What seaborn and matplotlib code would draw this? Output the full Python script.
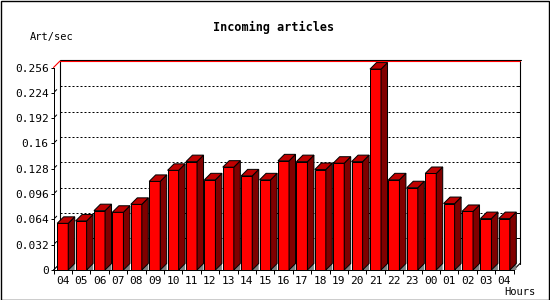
import matplotlib
matplotlib.use("Agg")
import matplotlib.pyplot as plt
import matplotlib.transforms as mtransforms
from matplotlib.patches import Polygon, Rectangle
from matplotlib.lines import Line2D
import seaborn as sns
import pandas as pd
import numpy as np

# ---- data ----
hours = ["04", "05", "06", "07", "08", "09", "10", "11", "12", "13", "14", "15",
         "16", "17", "18", "19", "20", "21", "22", "23", "00", "01", "02", "03", "04"]
rate = [0.059, 0.062, 0.075, 0.073, 0.083, 0.112, 0.126, 0.137, 0.114, 0.130,
        0.119, 0.114, 0.138, 0.137, 0.127, 0.135, 0.137, 0.254, 0.114, 0.104,
        0.122, 0.084, 0.074, 0.065, 0.065]
yticks = [0, 0.032, 0.064, 0.096, 0.128, 0.16, 0.192, 0.224, 0.256]
ytick_labels = ["0", "0.032", "0.064", "0.096", "0.128", "0.16", "0.192", "0.224", "0.256"]
title = "Incoming articles"
ylabel = "Art/sec"
xlabel = "Hours"

# ---- style ----
sns.set_theme(style="white")
plt.rcParams['font.family'] = ['DejaVu Sans Mono', 'DejaVu Sans']

FRONT = "#ff0000"
TOP = "#c00000"
SIDE = "#800000"
FLOOR = "#808080"

W, H = 550, 300
DPI = 100
fig = plt.figure(figsize=(W / DPI, H / DPI), dpi=DPI)
fig.patch.set_facecolor("white")

L, R, B, T = 53.5, 513.5, 270.0, 67.5   # pixel frame of the front plane
D = 6.5                                 # 3D depth in pixels
ax = fig.add_axes([L / W, (H - B) / H, (R - L) / W, (B - T) / H])

df = pd.DataFrame({"slot": list(range(len(hours))), "rate": rate})
sns.barplot(data=df, x="slot", y="rate", order=list(range(len(hours))),
            color=FRONT, saturation=1, width=0.6, errorbar=None,
            edgecolor="black", linewidth=0.72, ax=ax, zorder=3, orient="x")

ax.set_xlim(-0.5, len(hours) - 0.5)
ax.set_ylim(0, yticks[-1])
ax.set_xlabel("")
ax.set_ylabel("")
ax.set_facecolor("white")

# spines
for s in ["top", "right"]:
    ax.spines[s].set_visible(False)
for s in ["left", "bottom"]:
    ax.spines[s].set_color("black")
    ax.spines[s].set_linewidth(0.72)
    ax.spines[s].set_zorder(4)

# ticks
ax.set_yticks(yticks, ytick_labels)
ax.tick_params(axis="y", left=True, length=2.5, width=0.72, color="black",
               pad=1, labelsize=8, labelcolor="black")
ax.set_xticks(list(range(len(hours))), hours)
ax.set_xticks(np.arange(-0.5, len(hours), 1.0), minor=True)
ax.tick_params(axis="x", which="major", bottom=True, length=0, pad=4,
               labelsize=8, labelcolor="black")
ax.tick_params(axis="x", which="minor", bottom=True, length=3, width=0.72,
               color="black")

ident = mtransforms.IdentityTransform()


def disp(x, y, back=False):
    p = ax.transData.transform((x, y))
    if back:
        p = p + np.array([D, D])
    return p


x0, x1 = -0.5, len(hours) - 0.5
ymax = yticks[-1]

# back wall gridlines (dotted) and right-wall ticks
for yv in yticks[1:-1]:
    a = disp(x0, yv, True)
    b = disp(x1, yv, True)
    ax.add_line(Line2D([a[0], b[0]], [a[1], b[1]], transform=ident, color="black",
                       lw=0.72, linestyle=(0, (2, 2)), zorder=1, clip_on=False))
    ax.add_line(Line2D([b[0] - 3, b[0]], [b[1], b[1]], transform=ident,
                       color="black", lw=0.72, zorder=1, clip_on=False))
    # short diagonal marks between front axis and back wall
    f = disp(x0, yv)
    ax.add_line(Line2D([f[0] + 1.2, f[0] + 3.2], [f[1] + 1.2, f[1] + 3.2],
                       transform=ident, color="black", lw=0.72, zorder=1,
                       clip_on=False))

# back wall frame
for (xa, ya, xb, yb) in [(x0, 0, x0, ymax), (x1, 0, x1, ymax)]:
    a = disp(xa, ya, True)
    b = disp(xb, yb, True)
    ax.add_line(Line2D([a[0], b[0]], [a[1], b[1]], transform=ident, color="black",
                       lw=0.8, zorder=1, clip_on=False))
# top edge of back wall: black over red
a = disp(x0, ymax, True)
b = disp(x1, ymax, True)
ax.add_line(Line2D([a[0], b[0] + 0.5], [a[1] + 1, b[1] + 1], transform=ident,
                   color="black", lw=0.8, zorder=1, clip_on=False))
ax.add_line(Line2D([a[0], b[0]], [a[1], b[1]], transform=ident,
                   color="red", lw=0.8, zorder=1, clip_on=False))
f = disp(x0, ymax)
ax.add_line(Line2D([f[0], a[0]], [f[1], a[1]], transform=ident,
                   color="red", lw=0.8, zorder=1, clip_on=False))
# floor diagonals
for xv in (x0, x1):
    f = disp(xv, 0)
    g = disp(xv, 0, True)
    ax.add_line(Line2D([f[0], g[0]], [f[1], g[1]], transform=ident,
                       color="black", lw=0.8, zorder=1, clip_on=False))

# 3D faces of bars
for p in ax.patches:
    if not isinstance(p, Rectangle) or p.get_height() <= 0:
        continue
    bx0 = p.get_x()
    bx1 = bx0 + p.get_width()
    h = p.get_height()
    # floor shadow triangle
    pa = disp(bx1, 0)
    pb = disp(bx1, 0, True)
    tri = Polygon([pa, pb, [pb[0], pa[1]]], closed=True, transform=ident,
                  facecolor=FLOOR, edgecolor="none", zorder=2, clip_on=False)
    ax.add_patch(tri)
    # side face
    side = Polygon([disp(bx1, 0), disp(bx1, 0, True), disp(bx1, h, True), disp(bx1, h)],
                   closed=True, transform=ident, facecolor=SIDE,
                   edgecolor="black", lw=0.72, zorder=3, clip_on=False)
    ax.add_patch(side)
    # top face
    top = Polygon([disp(bx0, h), disp(bx0, h, True), disp(bx1, h, True), disp(bx1, h)],
                  closed=True, transform=ident, facecolor=TOP,
                  edgecolor="black", lw=0.72, zorder=3, clip_on=False)
    ax.add_patch(top)

# texts
fig.text(274 / W, 1 - 27 / H, title, ha="center", va="center", fontsize=8.5,
         fontweight="bold", color="black")
fig.text(30 / W, 1 - 37 / H, ylabel, ha="left", va="center", fontsize=7.5,
         color="black")
fig.text(504 / W, 1 - 292 / H, xlabel, ha="left", va="center", fontsize=7.5,
         color="black")

# outer frame
fig.patches.append(Rectangle((0.5, 0.5), W - 1.5, H - 1.5, transform=ident,
                             fill=False, edgecolor="black", lw=1.0))

fig.savefig("out.png", dpi=DPI)
